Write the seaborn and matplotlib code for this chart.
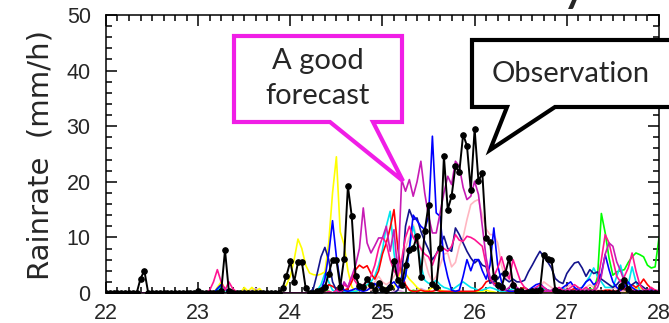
import matplotlib
matplotlib.use("Agg")
import matplotlib.pyplot as plt
from matplotlib.patches import Polygon
import numpy as np
import pandas as pd
import seaborn as sns

# hourly rain rate (mm/h) from 22.0 to 28.0, one row per day
hours = np.arange(145)
days = 22 + hours / 24

obs_rate = [
    0, 0, 0, 0, 0, 0, 0, 0, 0, 2.6, 4.0, 0, 0, 0, 0, 0, 0, 0, 0, 0, 0, 0, 0, 0,
    0.3, 0, 0, 0, 0, 0, 0.3, 7.7, 0.3, 0, 0, 0, 0, 0, 0, 0, 0, 0, 0, 0, 0, 0, 0.9, 3.1,
    5.7, 2.0, 5.5, 5.6, 0.9, 0, 0, 0.3, 0.5, 1.0, 3.5, 6.0, 6.0, 1.1, 6.2, 19.2, 13.8, 3.0, 1.2, 1.0, 2.6, 1.4, 0.5, 1.8,
    0.8, 0.5, 1.0, 5.7, 2.3, 1.4, 5.0, 7.8, 8.1, 10.2, 2.8, 11.1, 15.9, 1.7, 1.0, 8.1, 24.6, 15.0, 17.4, 22.8, 21.7, 28.5, 26.5, 18.5,
    29.5, 20.1, 21.6, 9.9, 9.2, 2.9, 1.4, 1.0, 3.6, 6.3, 1.4, 0.3, 0.3, 0, 0.2, 0.3, 0.3, 0.5, 6.9, 6.1, 6.0, 0.5, 0.2, 0,
    0, 0, 0, 0, 0, 0, 0, 0, 0, 0, 0, 0, 0, 0, 1.2, 2.4, 0.8, 0, 0, 0, 0, 0, 0, 0,
    0,
]
yellow_rate = [
    0, 0, 0, 0, 0, 0, 0, 0, 0, 0, 0, 0, 0, 0, 0, 0, 0, 0, 0, 0, 0, 0, 0, 0,
    0, 0, 0, 0, 0, 1.0, 2.0, 0.8, 0.3, 0, 0, 0, 1.0, 0.3, 1.0, 0.3, 0.8, 0, 0, 0, 0, 0, 0.5, 1.5,
    3.0, 6.0, 9.7, 8.0, 5.0, 3.6, 3.3, 3.2, 3.4, 3.8, 9.0, 18.0, 24.5, 11.0, 8.7, 4.0, 1.1, 0.3, 0.5, 1.0, 1.5, 1.0, 0.5, 1.0,
    0.5, 1.0, 0.5, 1.0, 2.5, 4.5, 3.5, 2.5, 1.8, 1.0, 0.5, 0.3, 0.5, 1.0, 0.8, 0.5, 0.3, 0.2, 0.2, 0.2, 0.2, 0.2, 0.2, 0.2,
    0.2, 0.2, 0.3, 0.5, 0.3, 0.2, 0, 0, 0, 0, 0, 0, 0, 0, 0, 0, 0, 0, 0, 0, 0, 0, 0, 0,
    0, 0, 0, 0, 0, 0, 0, 0, 0, 0, 0, 0, 0, 0, 0, 0, 0.3, 0.5, 0.8, 1.0, 0.5, 0.3, 0, 0,
    0,
]
blue_rate = [
    0, 0, 0, 0, 0, 0, 0, 0, 0, 0, 0, 0, 0, 0, 0, 0, 0, 0, 0, 0, 0, 0, 0, 0,
    0, 0, 0, 0, 0, 0.8, 1.5, 0.8, 0, 0, 0, 0, 0, 0, 0, 0, 0, 0, 0, 0, 0, 0, 0, 0,
    0, 0, 0, 0, 0, 0, 0, 0, 0.5, 2.5, 7.0, 13.0, 6.5, 2.0, 0.5, 0.3, 0.5, 0.8, 0.5, 0.3, 0.5, 1.0, 1.7, 1.0,
    0.5, 0.8, 1.5, 2.0, 1.0, 1.0, 3.0, 8.0, 14.0, 13.0, 12.0, 11.4, 13.8, 28.2, 14.4, 13.8, 6.0, 2.9, 0.5, 0.3, 0.5, 3.0, 6.0, 4.0,
    6.0, 6.0, 4.0, 2.5, 5.0, 11.7, 5.0, 2.0, 0.5, 0.3, 0.3, 0.3, 0.3, 0.3, 0.5, 1.0, 1.5, 1.7, 1.0, 0.5, 0.3, 0.3, 0.5, 1.0,
    1.5, 2.0, 1.0, 0.5, 1.0, 2.0, 2.5, 1.5, 2.0, 3.5, 6.9, 4.2, 2.0, 1.0, 0.5, 1.0, 2.0, 1.0, 0.5, 0.3, 0.3, 0.5, 0.5, 0.3,
    0.3,
]
navy_rate = [
    0, 0, 0, 0, 0, 0, 0, 0, 0, 0, 0, 0, 0, 0, 0, 0, 0, 0, 0, 0, 0, 0, 0, 0,
    0, 0, 0, 0, 0, 0, 0, 0, 0, 0, 0, 0, 0, 0, 0, 0, 0, 0, 0, 0, 0, 0, 0, 0,
    0, 0, 0, 0, 0, 0, 0.8, 3.5, 6.5, 8.2, 6.0, 2.0, 0.5, 0.3, 0, 0, 0, 0, 0, 0, 0, 0, 0, 0,
    0, 0, 0, 0, 0.5, 3.0, 12.0, 15.0, 13.2, 13.5, 11.1, 9.3, 7.8, 6.0, 7.0, 8.5, 10.2, 8.0, 7.5, 11.7, 10.5, 9.0, 7.5, 6.3,
    5.4, 6.0, 5.0, 4.7, 1.75, 2.0, 2.5, 3.5, 2.5, 2.0, 2.5, 2.0, 2.0, 2.3, 3.8, 5.0, 6.3, 7.5, 6.5, 5.6, 4.5, 2.6, 2.0, 1.7,
    3.5, 4.5, 5.4, 5.6, 4.5, 3.0, 4.2, 3.5, 3.8, 2.5, 2.0, 1.5, 1.0, 1.5, 2.3, 1.5, 1.0, 1.5, 2.0, 1.5, 1.0, 0.5, 0.3, 0.3,
    0.5,
]
hotpink_rate = [
    0, 0, 0, 0, 0, 0, 0, 0, 0, 0, 0, 0, 0, 0, 0, 0, 0, 0, 0, 0, 0, 0, 0, 0,
    0, 0, 0, 0.5, 2.0, 4.2, 2.0, 0.5, 2.0, 0.8, 0.2, 0, 0, 0, 0, 0, 0, 0, 0, 0, 0, 0, 0, 0,
    0, 0, 0, 0, 0, 0, 0, 0, 0, 0, 0.3, 0, 0.5, 0, 1.5, 1.0, 3.0, 2.0, 1.0, 1.5, 2.0, 3.0, 5.0, 8.0,
    10.0, 9.0, 6.0, 4.0, 3.0, 6.0, 10.0, 12.0, 10.0, 9.0, 8.0, 7.0, 6.5, 5.0, 7.0, 8.0, 8.0, 7.5, 8.4, 10.5, 9.5, 9.3, 10.2, 10.0,
    9.6, 9.0, 8.4, 5.0, 2.5, 3.0, 4.5, 6.5, 4.0, 2.5, 6.0, 4.0, 2.0, 1.0, 0.5, 0.5, 1.0, 1.5, 1.0, 0.5, 0.3, 0.5, 1.0, 0.5,
    0.5, 1.0, 1.5, 1.0, 0.5, 1.0, 0.5, 0.5, 2.0, 6.0, 10.5, 9.0, 6.0, 3.0, 2.0, 3.0, 4.5, 7.2, 4.0, 1.5, 0.5, 0.5, 1.0, 0.5,
    0.3,
]
purple_rate = [
    0, 0, 0, 0, 0, 0, 0, 0, 0, 0, 0, 0, 0, 0, 0, 0, 0, 0, 0, 0, 0, 0, 0, 0,
    0, 0, 0, 0, 0, 0, 0, 0, 0, 0, 0, 0, 0, 0, 0, 0, 0, 0, 0, 0, 0, 0, 0, 0,
    0, 0, 0, 0, 0, 0, 0, 0, 0, 0, 0, 0, 0, 0, 2.0, 1.0, 3.0, 5.0, 8.0, 15.3, 9.0, 7.2, 8.5, 9.9,
    9.9, 12.0, 7.5, 11.4, 3.5, 20.4, 18.3, 20.4, 17.4, 20.0, 23.7, 18.0, 13.8, 10.8, 10.8, 14.4, 18.0, 21.0, 19.5, 23.7, 22.8, 19.0, 16.8, 17.4,
    20.1, 17.7, 12.0, 6.3, 2.9, 1.5, 1.0, 0.5, 0.5, 1.0, 2.0, 1.0, 0.5, 0.3, 0.3, 0.5, 1.0, 0.5, 0.3, 0.3, 0.5, 1.0, 0.5, 0.3,
    0.3, 0.5, 0.3, 0.5, 0.3, 0.5, 0.5, 0.3, 1.0, 3.0, 7.0, 9.0, 8.4, 5.6, 4.0, 2.0, 1.0, 0.5, 0.3, 0.3, 0.3, 0.3, 0.3, 0.3,
    0.3,
]
red_rate = [
    0, 0, 0, 0, 0, 0, 0, 0, 0, 0, 0, 0, 0, 0, 0, 0, 0, 0, 0, 0, 0, 0, 0, 0,
    0, 0, 0, 0, 0, 0, 0, 0, 0, 0, 0, 0, 0, 0, 0, 0, 0, 0, 0, 0, 0, 0, 0, 0,
    0, 0, 0, 0, 0, 0, 0, 0, 0, 0.5, 1.5, 1.2, 0.8, 0.3, 0.5, 0.8, 2.0, 4.2, 5.0, 4.5, 4.9, 3.5, 2.5, 4.0,
    7.0, 9.0, 11.7, 15.0, 8.0, 3.5, 1.5, 0.5, 0.3, 0.3, 0.5, 0.3, 0.3, 0.3, 0.5, 0.3, 0.3, 0.3, 0.3, 0.3, 0.3, 0.3, 0.3, 0.3,
    0.3, 0.5, 1.0, 2.0, 2.3, 1.8, 1.5, 1.0, 0.5, 0.3, 0.3, 0.5, 0.8, 1.0, 0.5, 0.3, 0.3, 0.3, 0.3, 0.3, 0.3, 0.5, 0.3, 0.3,
    0.3, 0.5, 0.8, 0.5, 0.3, 0.3, 0.5, 0.3, 0.3, 0.3, 0.5, 0.5, 0.3, 0.3, 0.5, 0.8, 1.0, 1.5, 1.0, 1.5, 2.5, 1.5, 0.8, 0.5,
    0.3,
]
cyan_rate = [
    0, 0, 0, 0, 0, 0, 0, 0, 0, 0, 0, 0, 0, 0, 0, 0, 0, 0, 0, 0, 0, 0, 0, 0,
    0, 0, 0, 0, 0, 0.5, 1.0, 0.5, 0, 0, 0, 0, 0, 0, 0, 0, 0, 0, 0, 0, 0, 0, 0, 0,
    0, 0, 0, 0, 0, 0, 0, 0.5, 1.5, 3.5, 2.0, 0.5, 0.3, 0.3, 0.3, 0.3, 0.3, 0.3, 0.5, 1.0, 1.5, 2.0, 3.0, 5.0,
    7.8, 12.0, 14.7, 7.2, 2.3, 1.5, 3.0, 8.0, 12.0, 9.0, 5.0, 2.3, 1.75, 1.75, 2.3, 1.5, 1.0, 0.8, 0.5, 1.0, 1.5, 2.0, 1.5, 1.0,
    0.8, 0.5, 0.5, 0.8, 1.0, 0.8, 0.5, 0.3, 0.3, 0.5, 0.8, 0.5, 0.3, 0.3, 0.3, 0.5, 0.8, 1.0, 0.8, 0.5, 0.3, 0.3, 0.5, 0.8,
    0.5, 0.3, 0.5, 0.8, 1.0, 2.0, 3.0, 4.5, 3.0, 2.0, 1.0, 1.0, 1.0, 3.0, 5.0, 2.0, 1.5, 4.7, 2.0, 0.5, 0.3, 0.3, 0.5, 0.3,
    0.3,
]
green_rate = [
    0, 0, 0, 0, 0, 0, 0, 0, 0, 0, 0, 0, 0, 0, 0, 0, 0, 0, 0, 0, 0, 0, 0, 0,
    0, 0, 0, 0, 0, 0.5, 1.2, 0.5, 0, 0, 0, 0, 0, 0, 0, 0, 0, 0, 0, 0, 0, 0, 0, 0,
    0, 0, 0, 0, 0, 0, 0, 0, 0, 0.5, 0.3, 0, 0, 0, 0, 0, 0, 0, 0, 0, 0, 0, 0, 0,
    0, 0, 0, 0, 0, 0, 0, 0, 0.5, 0.3, 0, 0, 0, 0, 0, 0, 0, 0, 0, 0, 0, 0, 0, 0,
    0, 0, 0, 0, 0, 0, 0, 0, 0, 0, 0, 0, 0.5, 1.0, 0.5, 0.3, 0.3, 0.5, 0.8, 0.5, 0.3, 0.3, 0.5, 0.3,
    0.3, 0.3, 0.5, 0.3, 0.3, 0.5, 0.8, 0.5, 2.9, 14.3, 10.8, 6.3, 3.2, 3.8, 4.0, 4.2, 5.5, 6.5, 7.2, 6.9, 6.5, 5.0, 4.5, 4.7,
    9.9,
]
lightpink_rate = [
    0, 0, 0, 0, 0, 0, 0, 0, 0, 0, 0, 0, 0, 0, 0, 0, 0, 0, 0, 0, 0, 0, 0, 0,
    0, 0, 0, 0, 0, 0, 0, 0, 0, 0, 0, 0, 0.5, 0.3, 0, 0, 0, 0, 0, 0, 0, 0, 0, 0,
    0, 0, 0, 0, 0, 0, 0, 0, 0, 0, 0, 0, 0, 0, 0, 0, 0, 0, 0.5, 0.3, 1.0, 0.5, 2.0, 3.0,
    2.0, 1.5, 2.0, 3.0, 4.0, 5.0, 8.0, 10.0, 12.3, 10.0, 8.0, 6.0, 3.5, 2.0, 3.0, 5.0, 7.0, 7.2, 4.7, 5.5, 8.4, 10.0, 13.2, 15.9,
    16.5, 16.8, 14.0, 11.5, 10.5, 10.5, 9.0, 5.0, 2.5, 3.0, 2.0, 1.0, 0.5, 0.5, 0.5, 0.5, 0.8, 1.0, 2.0, 1.5, 1.0, 0.5, 0.5, 0.8,
    1.0, 1.5, 1.0, 0.5, 0.5, 1.0, 1.5, 1.0, 0.5, 0.5, 0.3, 0.5, 0.8, 1.0, 0.5, 0.3, 0.3, 0.5, 0.8, 0.5, 0.3, 0.3, 0.3, 0.3,
    0.3,
]
plum_rate = [
    0, 0, 0, 0, 0, 0, 0, 0, 0, 0, 0, 0, 0, 0, 0, 0, 0, 0, 0, 0, 0, 0, 0, 0,
    0, 0, 0, 0, 0, 0, 0, 0, 0, 0, 0, 0, 0, 0, 0.5, 0.8, 0.5, 0, 0, 0, 0, 0, 0, 0,
    0, 0, 0, 0, 0, 0, 0, 0, 0, 0, 0, 0, 0, 0, 0, 0.3, 0.5, 0.3, 0, 0, 0, 0, 0, 0,
    0, 0, 0, 0.3, 0.5, 0.3, 0, 0, 0.3, 0.5, 0.8, 0.5, 0.3, 0, 0, 0, 0, 0, 0, 0, 0, 0, 0, 0,
    0, 0, 0, 0, 0, 0, 0, 0, 0, 0, 0.3, 0.5, 0.3, 0, 0, 0, 0, 0, 0, 0, 0, 0, 0, 0,
    0, 0, 0, 0, 0, 0, 0, 0, 0, 0, 0, 0, 0.3, 0.5, 0.3, 0, 0, 0, 0, 0, 0, 0, 0, 0,
    0,
]

member_names = ["plum", "lightpink", "green", "yellow", "cyan", "red",
                "navy", "blue", "hotpink", "purple"]
member_rates = [plum_rate, lightpink_rate, green_rate, yellow_rate, cyan_rate,
                red_rate, navy_rate, blue_rate, hotpink_rate, purple_rate]
member_colors = ["#dda0dd", "#ffb6c1", "#00ff00", "#ffff00", "#00e5ee",
                 "#ff0000", "#14148c", "#0000ff", "#ff1493", "#c71bb4"]

for r in member_rates + [obs_rate]:
    assert len(r) == len(hours), len(r)

frames = [pd.DataFrame({"day": days, "rate": r, "member": n})
          for n, r in zip(member_names, member_rates)]
df = pd.concat(frames, ignore_index=True)

sns.set_style("ticks")
plt.rcParams["font.family"] = ["Liberation Sans", "DejaVu Sans"]

fig = plt.figure(figsize=(6.69, 3.23), dpi=100)
ax = fig.add_axes([0.1584, 0.0929, 0.8266, 0.8607])

sns.lineplot(data=df, x="day", y="rate", hue="member", hue_order=member_names,
             palette=dict(zip(member_names, member_colors)), estimator=None,
             sort=False, linewidth=1.2, legend=False, ax=ax)
sns.lineplot(x=days, y=obs_rate, color="black", marker="o", markersize=4,
             markeredgecolor="black", linewidth=1.4, estimator=None, ax=ax)

ax.set_xlim(22, 28)
ax.set_ylim(0, 50)
ax.set_xticks(range(22, 29))
ax.set_yticks(range(0, 51, 10))
ax.set_xticks(np.arange(22, 28.01, 0.125), minor=True)
ax.set_yticks(range(0, 51, 2), minor=True)
ax.tick_params(which="both", direction="in", top=True, right=True, width=1.1, color="black")
ax.tick_params(which="major", length=8, labelsize=15.5, pad=7)
ax.tick_params(which="minor", length=4)
ax.tick_params(axis="y", which="major", pad=11)
ax.set_xlabel("")
ax.set_ylabel("Rainrate  (mm/h)", fontsize=21, family="DejaVu Sans")
ax.yaxis.set_label_coords(-0.093, 0.496)
for s in ax.spines.values():
    s.set_linewidth(1.1)
    s.set_color("black")

W, H = 669, 323


def px(x, y):
    return (x / W, 1 - y / H)


good_box = [px(234, 36), px(402, 36), px(402, 122), px(373, 122),
            px(403, 181), px(330, 122), px(234, 122)]
fig.patches.append(Polygon(good_box, closed=True, transform=fig.transFigure,
                           facecolor="white", edgecolor="#f01ee6", linewidth=3,
                           joinstyle="miter", zorder=5))
obs_box = [px(472, 40), px(690, 40), px(690, 107), px(555, 107),
           px(490, 150), px(507, 107), px(472, 107)]
fig.patches.append(Polygon(obs_box, closed=True, transform=fig.transFigure,
                           facecolor="white", edgecolor="black", linewidth=3,
                           joinstyle="miter", zorder=5))

fig.text(*px(318, 61), "A good", fontsize=21, family="Lato", ha="center", va="center", zorder=6)
fig.text(*px(318, 96), "forecast", fontsize=21, family="Lato", ha="center", va="center", zorder=6)
fig.text(*px(571, 74), "Observation", fontsize=21, family="Lato", ha="center", va="center", zorder=6)

# bottom of a title line that sits above the picture
fig.text(*px(575, -1), "y", fontsize=40, family="Lato", ha="center", va="baseline", zorder=6)

fig.savefig("out.png", dpi=100)
